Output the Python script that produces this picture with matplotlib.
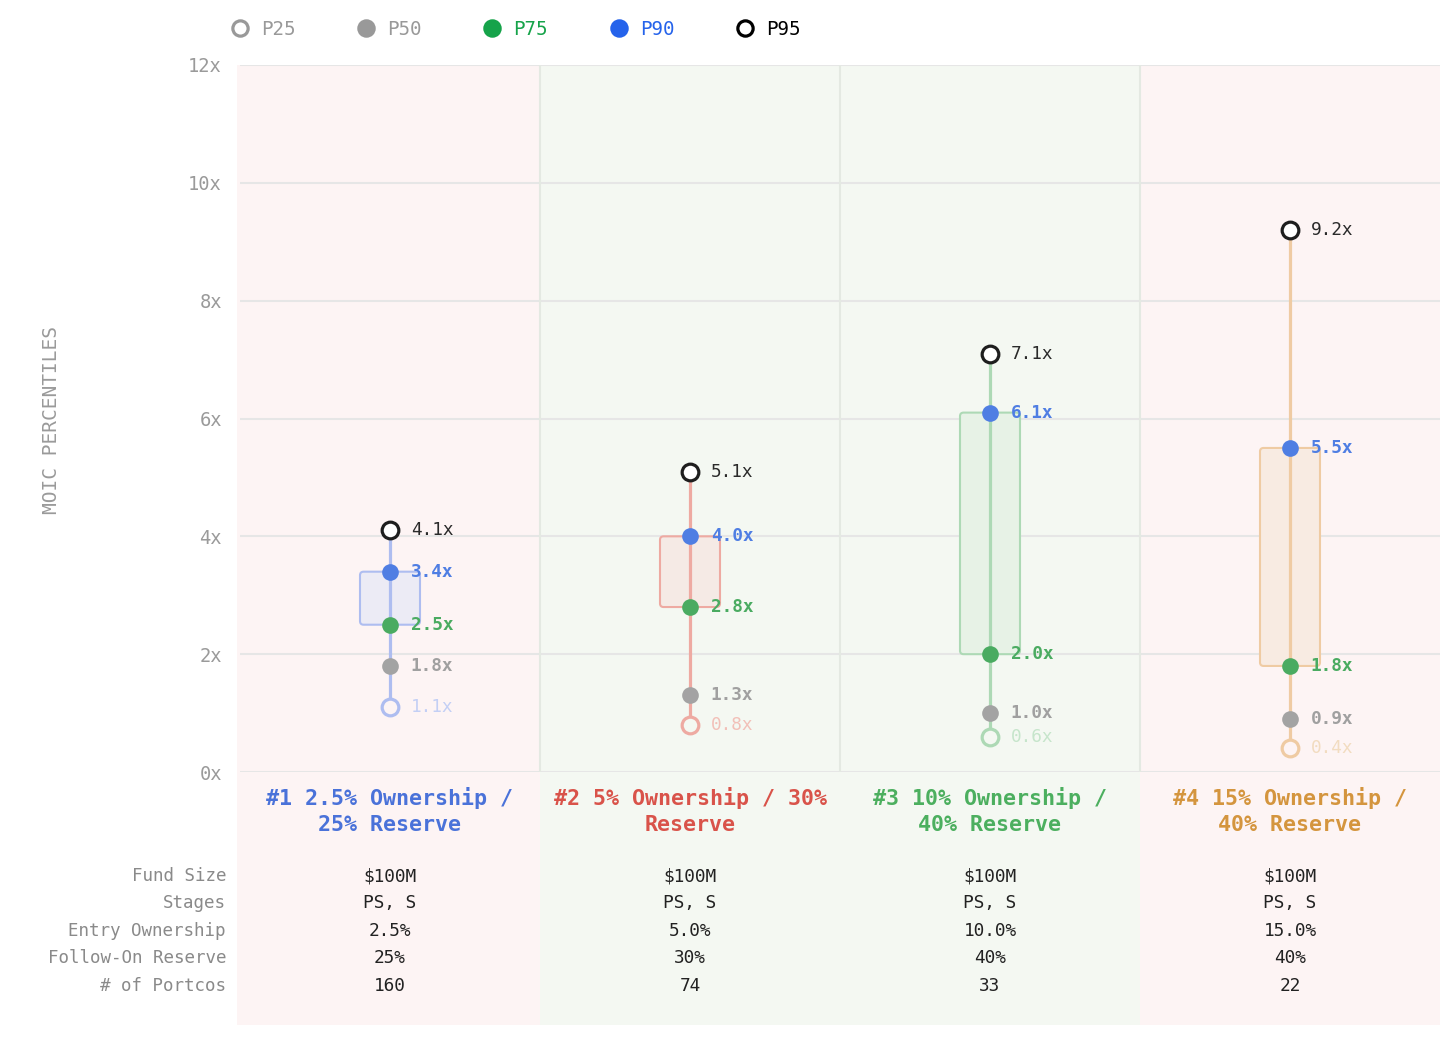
import matplotlib
matplotlib.use("Agg")
import matplotlib.pyplot as plt
from matplotlib.patches import Rectangle, FancyBboxPatch
from matplotlib.lines import Line2D

plt.rcParams['font.family'] = ['DejaVu Sans Mono']

# -------------------------------------------------
# Data
# -------------------------------------------------

scenarios = [
    "#1 2.5% Ownership /\n25% Reserve",
    "#2 5% Ownership / 30%\nReserve",
    "#3 10% Ownership /\n40% Reserve",
    "#4 15% Ownership /\n40% Reserve",
]

p25 = [1.1, 0.8, 0.6, 0.4]
p50 = [1.8, 1.3, 1.0, 0.9]
p75 = [2.5, 2.8, 2.0, 1.8]
p90 = [3.4, 4.0, 6.1, 5.5]
p95 = [4.1, 5.1, 7.1, 9.2]

pct_labels = ["P25", "P50", "P75", "P90", "P95"]

row_labels = ["Fund Size", "Stages", "Entry Ownership", "Follow-On Reserve", "# of Portcos"]
fund_size = ["$100M", "$100M", "$100M", "$100M"]
stages = ["PS, S", "PS, S", "PS, S", "PS, S"]
entry_own = ["2.5%", "5.0%", "10.0%", "15.0%"]
reserve = ["25%", "30%", "40%", "40%"]
portcos = ["160", "74", "33", "22"]

# -------------------------------------------------
# Styles
# -------------------------------------------------

W, H = 1456, 1037
scen_color = ["#4a72d9", "#d9534a", "#4caf5f", "#d4953e"]
line_color = ["#aebdf0", "#eeaaa2", "#add9b5", "#efcba3"]
p25_text = ["#c3cff5", "#f2c0b8", "#c6e5cb", "#f2dcc0"]
box_fill = ["#ecebf5", "#f5eae5", "#e7f2e6", "#f8ebe2"]
bg_color = ["#fdf4f4", "#f4f8f2", "#f4f8f2", "#fdf4f4"]
grey = "#a3a3a3"
green = "#4aab61"
blue = "#4f7ee3"
dark = "#1e1e1e"

AX_L, AX_R, AX_T, AX_B = 240, 1440, 65, 772


def yf(py):
    # pixel row -> axes fraction
    return (AX_B - py) / (AX_B - AX_T)


fig = plt.figure(figsize=(W / 100, H / 100), dpi=100)
ax = fig.add_axes([AX_L / W, 1 - AX_B / H, (AX_R - AX_L) / W, (AX_B - AX_T) / H])
ax.patch.set_visible(False)
for s in ax.spines.values():
    s.set_visible(False)

ax.set_xlim(0, 4)
ax.set_ylim(0, 12)

# column backgrounds (extend down into the table area)
for i in range(4):
    x0 = i - (0.01 if i == 0 else 0)
    ax.add_patch(Rectangle((x0, yf(1025)), 1 + (i == 0) * 0.01, 1 - yf(1025),
                           transform=ax.get_xaxis_transform(),
                           facecolor=bg_color[i], edgecolor="none",
                           clip_on=False, zorder=0))

ax.set_axisbelow(True)
ax.yaxis.grid(True, color="#e6e6e6", lw=1.5)
for xv in [1, 2, 3]:
    ax.axvline(xv, color="#e4e9e2", lw=1.5, zorder=0.6)

ax.set_yticks(range(0, 13, 2))
ax.set_yticklabels([f"{v}x" for v in range(0, 13, 2)])
ax.set_xticks([])
ax.tick_params(axis="y", length=0, pad=13, labelcolor="#9a9a9a", labelsize=13.5)

# -------------------------------------------------
# Percentile ranges
# -------------------------------------------------

for i in range(4):
    xc = i + 0.5
    ax.plot([xc, xc], [p25[i], p95[i]], color=line_color[i], lw=2.3,
            solid_capstyle="butt", zorder=3)
    box = FancyBboxPatch((xc - 0.1, p75[i]), 0.2, p90[i] - p75[i],
                         boxstyle="round,pad=0,rounding_size=0.012",
                         mutation_aspect=300 / 58.9,
                         facecolor=box_fill[i], edgecolor=line_color[i],
                         lw=1.5, zorder=2)
    ax.add_patch(box)

    ax.plot(xc, p25[i], "o", ms=12, mfc=bg_color[i], mec=line_color[i], mew=2.3, zorder=4)
    ax.plot(xc, p50[i], "o", ms=12, mfc=grey, mec="none", zorder=4)
    ax.plot(xc, p75[i], "o", ms=12, mfc=green, mec="none", zorder=4)
    ax.plot(xc, p90[i], "o", ms=12, mfc=blue, mec="none", zorder=4)
    ax.plot(xc, p95[i], "o", ms=12, mfc="white", mec=dark, mew=2.3, zorder=4)

    for val, col, wt in [(p25[i], p25_text[i], "normal"),
                         (p50[i], "#a0a0a0", "bold"),
                         (p75[i], green, "bold"),
                         (p90[i], blue, "bold"),
                         (p95[i], "#2a2a2a", "normal")]:
        ax.annotate(f"{val:.1f}x", (xc, val), xytext=(15, 0),
                    textcoords="offset points", ha="left", va="center",
                    fontsize=12.8, color=col, fontweight=wt, zorder=5)

    # scenario titles
    ax.text(xc, yf(811), scenarios[i], transform=ax.get_xaxis_transform(),
            ha="center", va="center", fontsize=15.6, fontweight="bold",
            color=scen_color[i], linespacing=1.32, clip_on=False)

# -------------------------------------------------
# Table below the chart
# -------------------------------------------------

rows = [fund_size, stages, entry_own, reserve, portcos]
row_y = [876, 903, 931, 958, 986]
for label, vals, py in zip(row_labels, rows, row_y):
    fig.text(226 / W, 1 - py / H, label, ha="right", va="center",
             fontsize=12.6, color="#8a8a8a")
    for i, v in enumerate(vals):
        ax.text(i + 0.5, yf(py), v, transform=ax.get_xaxis_transform(),
                ha="center", va="center", fontsize=12.8, color="#222222",
                clip_on=False)

# y label
fig.text(52 / W, 1 - 420 / H, "MOIC PERCENTILES", rotation=90,
         ha="center", va="center", fontsize=14, color="#9a9a9a")

# -------------------------------------------------
# Legend
# -------------------------------------------------

leg_x = [240, 366, 492, 619, 745]
leg_mfc = ["white", "#999999", "#16a34a", "#2563eb", "white"]
leg_mec = ["#999999", "#999999", "#16a34a", "#2563eb", "#000000"]
leg_txt = ["#999999", "#999999", "#16a34a", "#2563eb", "#000000"]
for lx, lab, mfc, mec, tc in zip(leg_x, pct_labels, leg_mfc, leg_mec, leg_txt):
    fig.add_artist(Line2D([lx / W], [1 - 28 / H], marker="o", ms=11,
                          mfc=mfc, mec=mec, mew=2.3, linestyle="none",
                          transform=fig.transFigure))
    fig.text((lx + 21) / W, 1 - 29 / H, lab, ha="left", va="center",
             fontsize=13.8, color=tc)

fig.savefig("out.png", dpi=100, facecolor="white")
